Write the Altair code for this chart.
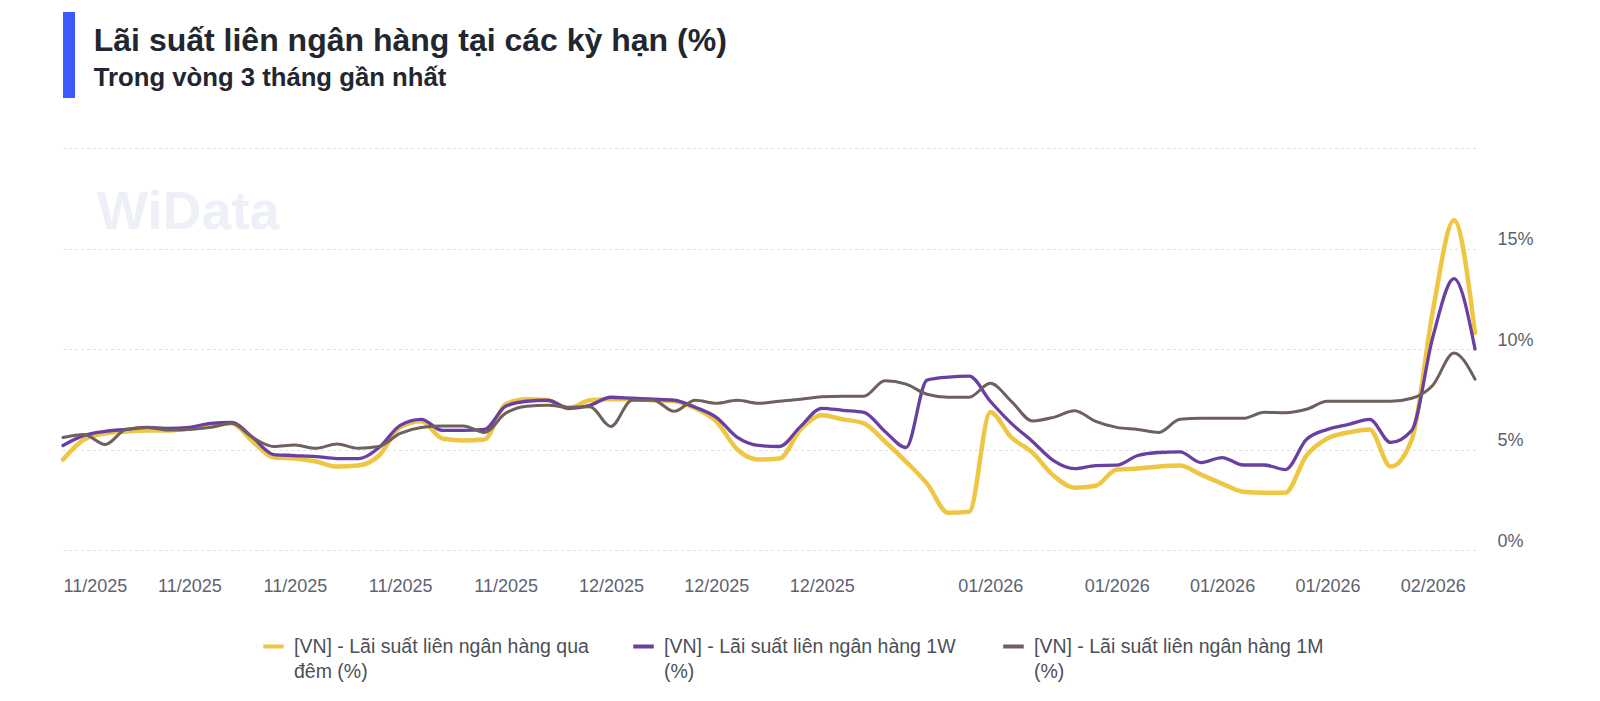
import altair as alt
import pandas as pd

# ---- data (index = trading-day position) ----
overnight = [4.5, 5.5, 5.8, 5.9, 5.95, 5.95, 6.05, 6.15, 6.3, 5.4,
             4.6, 4.55, 4.4, 4.15, 4.2, 4.7, 6.1, 6.4, 5.55, 5.45,
             5.5, 7.25, 7.5, 7.45, 7.05, 7.45, 7.5, 7.5, 7.45, 7.4,
             7.05, 6.4, 5.0, 4.5, 4.55, 6.0, 6.7, 6.5, 6.3, 5.4,
             4.4, 3.3, 1.85, 1.9, 6.85, 5.6, 4.85, 3.7, 3.1, 3.2,
             4.0, 4.05, 4.15, 4.2, 3.75, 3.3, 2.9, 2.85, 2.85, 4.7,
             5.55, 5.85, 6.0, 4.15, 5.5, 11.9, 16.4, 10.8]
week1 = [5.2, 5.7, 5.9, 6.0, 6.1, 6.05, 6.1, 6.3, 6.35, 5.6,
         4.75, 4.7, 4.65, 4.55, 4.55, 5.1, 6.2, 6.5, 5.95, 5.95,
         6.0, 7.15, 7.4, 7.45, 7.05, 7.2, 7.6, 7.55, 7.5, 7.45,
         7.1, 6.6, 5.6, 5.2, 5.15, 6.15, 7.05, 6.95, 6.85, 5.9,
         5.1, 8.45, 8.6, 8.65, 7.4, 6.3, 5.4, 4.45, 4.05, 4.2,
         4.22, 4.7, 4.85, 4.88, 4.35, 4.6, 4.23, 4.23, 4.0, 5.5,
         6.0, 6.25, 6.5, 5.35, 5.95, 10.6, 13.5, 10.0]
month1 = [5.6, 5.75, 5.25, 6.0, 6.1, 5.97, 6.0, 6.1, 6.3, 5.6,
          5.15, 5.22, 5.06, 5.27, 5.06, 5.15, 5.8, 6.1, 6.17, 6.17,
          5.85, 6.8, 7.15, 7.2, 7.1, 7.13, 6.15, 7.45, 7.45, 6.9,
          7.45, 7.3, 7.45, 7.3, 7.4, 7.5, 7.62, 7.65, 7.65, 8.42,
          8.25, 7.75, 7.6, 7.6, 8.29, 7.4, 6.42, 6.6, 6.93, 6.4,
          6.1, 6.0, 5.85, 6.5, 6.55, 6.55, 6.55, 6.85, 6.83, 7.0,
          7.4, 7.4, 7.4, 7.4, 7.55, 8.2, 9.8, 8.5]

series_names = [
    "[VN] - Lãi suất liên ngân hàng qua đêm (%)",
    "[VN] - Lãi suất liên ngân hàng 1W (%)",
    "[VN] - Lãi suất liên ngân hàng 1M (%)",
]
legend_lines = [
    ["[VN] - Lãi suất liên ngân hàng qua", "đêm (%)"],
    ["[VN] - Lãi suất liên ngân hàng 1W", "(%)"],
    ["[VN] - Lãi suất liên ngân hàng 1M", "(%)"],
]
series_colors = ["#EEC643", "#6A3FA3", "#6E605D"]
series_widths = [4.5, 3.3, 3.0]

tick_index = [0, 6, 11, 16, 21, 26, 31, 36, 44, 50, 55, 60, 65]
tick_labels = ["11/2025", "11/2025", "11/2025", "11/2025", "11/2025",
               "12/2025", "12/2025", "12/2025",
               "01/2026", "01/2026", "01/2026", "01/2026", "02/2026"]
y_ticks = [0, 5, 10, 15, 20]

title_text = "Lãi suất liên ngân hàng tại các kỳ hạn (%)"
subtitle_text = "Trong vòng 3 tháng gần nhất"
watermark = "WiData"

# ---- build table ----
rows = []
for name, vals in zip(series_names, [overnight, week1, month1]):
    for i, v in enumerate(vals):
        rows.append({"idx": i, "value": v, "series": name})
df = pd.DataFrame(rows)

FONT = "Liberation Sans"
TEXT_COLOR = "#5d6270"

x_label_expr = "[" + ",".join(f"'{t}'" for t in tick_labels) + "][indexof([" + \
    ",".join(str(t) for t in tick_index) + "], datum.value)]"

legend_expr = " : ".join(
    f"datum.label === '{n}' ? ['{a}', '{b}']" for n, (a, b) in zip(series_names, legend_lines)
) + " : datum.label"

x_axis = alt.Axis(values=tick_index, labelExpr=x_label_expr, grid=False, ticks=False,
                  domain=False, labelFont=FONT, labelFontSize=18, labelColor=TEXT_COLOR,
                  labelPadding=27, labelFlush=True, labelOverlap=False, title=None)
y_axis = alt.Axis(orient="right", values=y_ticks,
                  labelExpr="datum.value >= 20 ? '' : datum.value + '%'",
                  grid=True, gridDash=[2, 4], gridColor="#d0d3da", gridWidth=1,
                  ticks=False, domain=False, labelFont=FONT, labelFontSize=18,
                  labelColor=TEXT_COLOR, labelAlign="left", labelPadding=22,
                  labelBaseline="alphabetic", labelOffset=-4, title=None)

x_enc = alt.X("idx:Q", scale=alt.Scale(domain=[0, len(overnight) - 1], nice=False, zero=False), axis=x_axis)
y_enc = alt.Y("value:Q", scale=alt.Scale(domain=[0, 20], nice=False), axis=y_axis)
color_enc = alt.Color(
    "series:N",
    scale=alt.Scale(domain=series_names, range=series_colors),
    legend=alt.Legend(title=None, orient="none", legendX=198, legendY=486,
                      direction="horizontal", columns=3, symbolType="stroke",
                      symbolStrokeWidth=4, symbolSize=420, labelFont=FONT,
                      labelFontSize=19.5, labelColor="#4b4f58", labelLimit=500,
                      columnPadding=36, labelOffset=8, gridAlign="all",
                      labelBaseline="middle", labelExpr=legend_expr, padding=0),
)

base = alt.Chart(df)
layers = []
for name, w in zip(series_names, series_widths):
    layers.append(
        base.transform_filter(alt.datum.series == name)
        .mark_line(interpolate="monotone", strokeWidth=w, strokeCap="round", strokeJoin="round")
        .encode(x=x_enc, y=y_enc, color=color_enc)
    )

one = alt.Chart(pd.DataFrame({"k": [0]}))
bar = one.mark_rect(color="#3D5AFE").encode(
    x=alt.value(0), x2=alt.value(12), y=alt.value(-136), y2=alt.value(-50))
wm = one.mark_text(text=watermark, font=FONT, fontWeight="bold", fontSize=54,
                   color="#eef0f7", align="left", baseline="alphabetic").encode(
    x=alt.value(34), y=alt.value(81))

chart = alt.layer(wm, *layers, bar).properties(
    width=1412, height=402,
    autosize=alt.AutoSizeParams(type="none"),
    padding={"left": 55, "top": 140, "right": 85, "bottom": 150},
    title=alt.TitleParams(text=title_text, subtitle=subtitle_text, anchor="start",
                          font=FONT, fontSize=32, fontWeight="bold", color="#22262f",
                          subtitleFont=FONT, subtitleFontSize=25.7, subtitleFontWeight="bold",
                          subtitleColor="#22262f", subtitlePadding=8, dx=33, offset=-80),
).configure(
    background="white", style={"guide-label": {"lineHeight": 25}}
).configure_view(strokeWidth=0)

chart.save("out.html", embed_options={"renderer": "svg", "actions": False})
